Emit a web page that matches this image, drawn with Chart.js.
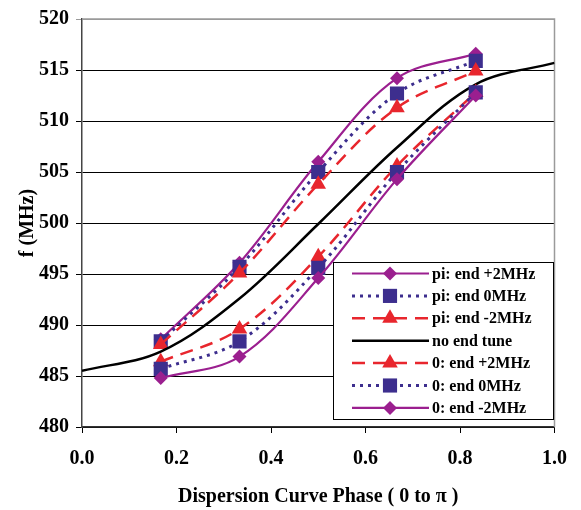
<!DOCTYPE html>
<html>
<head>
<meta charset="utf-8">
<script src="https://cdn.jsdelivr.net/npm/chart.js@4.4.1/dist/chart.umd.min.js"></script>
<style>
  html, body { margin: 0; padding: 0; background: #fff; }
  canvas { display: block; }
</style>
</head>
<body>
<canvas id="dispChart" width="581" height="510"></canvas>
<script>
// phase positions of the measured points (fraction of pi)
const phases = [1/6, 2/6, 3/6, 4/6, 5/6];
const phasesNoTune = [0, 1/6, 2/6, 3/6, 4/6, 5/6, 1];

// frequencies in MHz
const piEndPlus2 = [488.6, 496.1, 506.0, 514.2, 516.6];
const piEnd0 = [488.4, 495.7, 505.0, 512.7, 515.9];
const piEndMinus2 = [488.1, 495.1, 503.8, 511.3, 514.9];
const noEndTune = [485.5, 487.4, 492.6, 499.9, 507.4, 513.6, 515.7];
const zeroEndPlus2 = [486.4, 489.6, 496.7, 505.6, 512.8];
const zeroEnd0 = [485.7, 488.4, 495.6, 505.0, 512.8];
const zeroEndMinus2 = [484.8, 486.9, 494.6, 504.3, 512.5];

const seriesLabels = ['pi: end +2MHz', 'pi: end 0MHz', 'pi: end -2MHz', 'no end tune',
                      '0: end +2MHz', '0: end 0MHz', '0: end -2MHz'];
const yTicks = [480, 485, 490, 495, 500, 505, 510, 515, 520];
const xTicks = [0, 0.2, 0.4, 0.6, 0.8, 1.0];

const PURPLE = '#9B1F8F';
const NAVY = '#3D2E8E';
const RED = '#E8262D';
const SERIF = "'Liberation Serif', 'Times New Roman', serif";

// styles per series
const styles = [
    { color: PURPLE, dash: [], width: 2.2, marker: 'rectRot', radius: 7 },
    { color: NAVY, dash: [3, 5], width: 3, marker: 'rect', radius: 10 },
    { color: RED, dash: [13, 8], width: 2.5, marker: 'triangle', radius: 9 },
    { color: '#000', dash: [], width: 2.5, marker: false, radius: 0 },
    { color: RED, dash: [13, 8], width: 2.5, marker: 'triangle', radius: 9 },
    { color: NAVY, dash: [3, 5], width: 3, marker: 'rect', radius: 10 },
    { color: PURPLE, dash: [], width: 2.2, marker: 'rectRot', radius: 7 }
];

const seriesValues = [piEndPlus2, piEnd0, piEndMinus2, noEndTune, zeroEndPlus2, zeroEnd0, zeroEndMinus2];

function makeDataset(i) {
    const xs = i === 3 ? phasesNoTune : phases;
    const s = styles[i];
    return {
        label: seriesLabels[i],
        data: seriesValues[i].map((v, k) => ({ x: xs[k], y: v })),
        showLine: true,
        borderColor: s.color,
        backgroundColor: s.color,
        borderWidth: s.width,
        borderDash: s.dash,
        tension: 0.35,
        pointStyle: s.marker,
        pointRadius: s.radius,
        pointBorderWidth: 0,
        pointHoverRadius: s.radius,
        order: 6 - i   // later series drawn on top, like the original
    };
}

function drawMarker(ctx, style, x, y, r) {
    ctx.beginPath();
    if (style === 'rectRot') {
        ctx.moveTo(x - r, y); ctx.lineTo(x, y - r); ctx.lineTo(x + r, y); ctx.lineTo(x, y + r);
    } else if (style === 'rect') {
        const h = r * Math.SQRT1_2;
        ctx.rect(x - h, y - h, 2 * h, 2 * h);
    } else if (style === 'triangle') {
        ctx.moveTo(x, y - r);
        ctx.lineTo(x + r * 0.866, y + r / 2);
        ctx.lineTo(x - r * 0.866, y + r / 2);
    }
    ctx.closePath();
    ctx.fill();
}

// frame on top/right and the boxed legend inside the plot
const frameAndLegend = {
    id: 'frameAndLegend',
    beforeDatasetsDraw(chart) {
        const { ctx, chartArea: a } = chart;
        ctx.save();
        ctx.strokeStyle = '#9a9a9a';
        ctx.lineWidth = 1.5;
        ctx.beginPath();
        ctx.moveTo(a.left, a.top);
        ctx.lineTo(a.right, a.top);
        ctx.lineTo(a.right, a.bottom);
        ctx.stroke();
        ctx.restore();
    },
    afterDraw(chart) {
        const ctx = chart.ctx;
        const box = { x: 333, y: 262, w: 220, h: 157 };
        ctx.save();
        ctx.fillStyle = '#fff';
        ctx.fillRect(box.x, box.y, box.w, box.h);
        ctx.strokeStyle = '#000';
        ctx.lineWidth = 1;
        ctx.strokeRect(box.x + 0.5, box.y + 0.5, box.w, box.h);
        ctx.font = 'bold 16px ' + SERIF;
        ctx.textBaseline = 'middle';
        ctx.textAlign = 'left';
        for (let i = 0; i < seriesLabels.length; i++) {
            const s = styles[i];
            const y = 273.5 + i * 22.4;
            ctx.strokeStyle = s.color;
            ctx.fillStyle = s.color;
            ctx.lineWidth = s.width;
            ctx.setLineDash(s.dash);
            ctx.beginPath();
            ctx.moveTo(352, y);
            ctx.lineTo(429, y);
            ctx.stroke();
            ctx.setLineDash([]);
            if (s.marker) drawMarker(ctx, s.marker, 390, y, s.radius);
            ctx.fillStyle = '#000';
            ctx.fillText(seriesLabels[i], 432, y + 1);
        }
        ctx.restore();
    }
};

document.addEventListener('DOMContentLoaded', () => {
    const ctx = document.getElementById('dispChart').getContext('2d');
    new Chart(ctx, {
        type: 'scatter',
        data: { datasets: seriesLabels.map((_, i) => makeDataset(i)) },
        options: {
            responsive: false,
            animation: false,
            devicePixelRatio: 1,
            layout: { padding: { top: 18, right: 22, left: 0, bottom: 0 } },
            plugins: {
                legend: { display: false },
                tooltip: { enabled: false }
            },
            scales: {
                x: {
                    type: 'linear',
                    min: 0,
                    max: 1,
                    afterFit: scale => { scale.height = 83; },
                    afterBuildTicks: scale => { scale.ticks = xTicks.map(v => ({ value: v })); },
                    grid: { drawOnChartArea: false, drawTicks: true, tickLength: 6, color: '#000', lineWidth: 1 },
                    border: { color: '#333', width: 1.5 },
                    ticks: {
                        color: '#000',
                        padding: 14,
                        maxRotation: 0,
                        font: { family: SERIF, size: 20, weight: 'bold' },
                        callback: v => Number(v).toFixed(1)
                    },
                    title: {
                        display: true,
                        text: 'Dispersion Curve Phase ( 0 to \u03C0 )',
                        color: '#000',
                        padding: { top: 0, bottom: 1 },
                        font: { family: SERIF, size: 20, weight: 'bold' }
                    }
                },
                y: {
                    min: 480,
                    max: 520,
                    afterFit: scale => { scale.width = 82; },
                    afterBuildTicks: scale => { scale.ticks = yTicks.map(v => ({ value: v })); },
                    grid: {
                        drawTicks: true,
                        tickLength: 6,
                        lineWidth: 1,
                        color: c => (c.tick && c.tick.value === 520) ? '#9a9a9a' : '#000'
                    },
                    border: { color: '#444', width: 1.5 },
                    ticks: {
                        color: '#000',
                        padding: 7,
                        font: { family: SERIF, size: 20, weight: 'bold' }
                    },
                    title: {
                        display: true,
                        text: 'f (MHz)',
                        color: '#000',
                        padding: { top: 16, bottom: 0 },
                        font: { family: SERIF, size: 20, weight: 'bold' }
                    }
                }
            }
        },
        plugins: [frameAndLegend]
    });
});
</script>
</body>
</html>
